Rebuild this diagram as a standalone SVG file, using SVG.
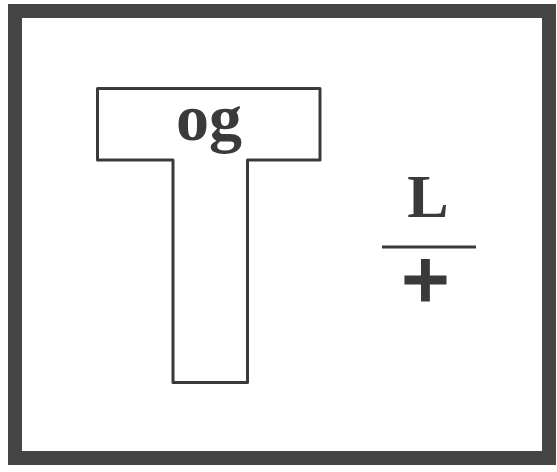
<svg xmlns="http://www.w3.org/2000/svg" width="557" height="472" viewBox="0 0 557 472">
<style>
.t{font-family:"Liberation Serif","Times New Roman",serif;font-weight:bold;fill:#3a3a3a;text-anchor:middle}
</style>
<rect x="0" y="0" width="557" height="472" fill="#ffffff"/>
<g id="frame"><rect x="15" y="11" width="534" height="447" fill="none" stroke="#454545" stroke-width="14"/></g>
<g id="tshape"><path d="M97.5 88.5 H320 V160 H247.5 V382.5 H173 V160 H97.5 Z" fill="none" stroke="#3a3a3a" stroke-width="3" stroke-linejoin="round"/><text class="t" x="209" y="140" font-size="66">og</text></g>
<g id="fraction"><text class="t" x="428" y="217" font-size="62">L</text><line x1="382" y1="247" x2="476" y2="247" stroke="#3a3a3a" stroke-width="3"/><text class="t" x="425.5" y="308" font-size="84" stroke="#3a3a3a" stroke-width="3">+</text></g>
</svg>
